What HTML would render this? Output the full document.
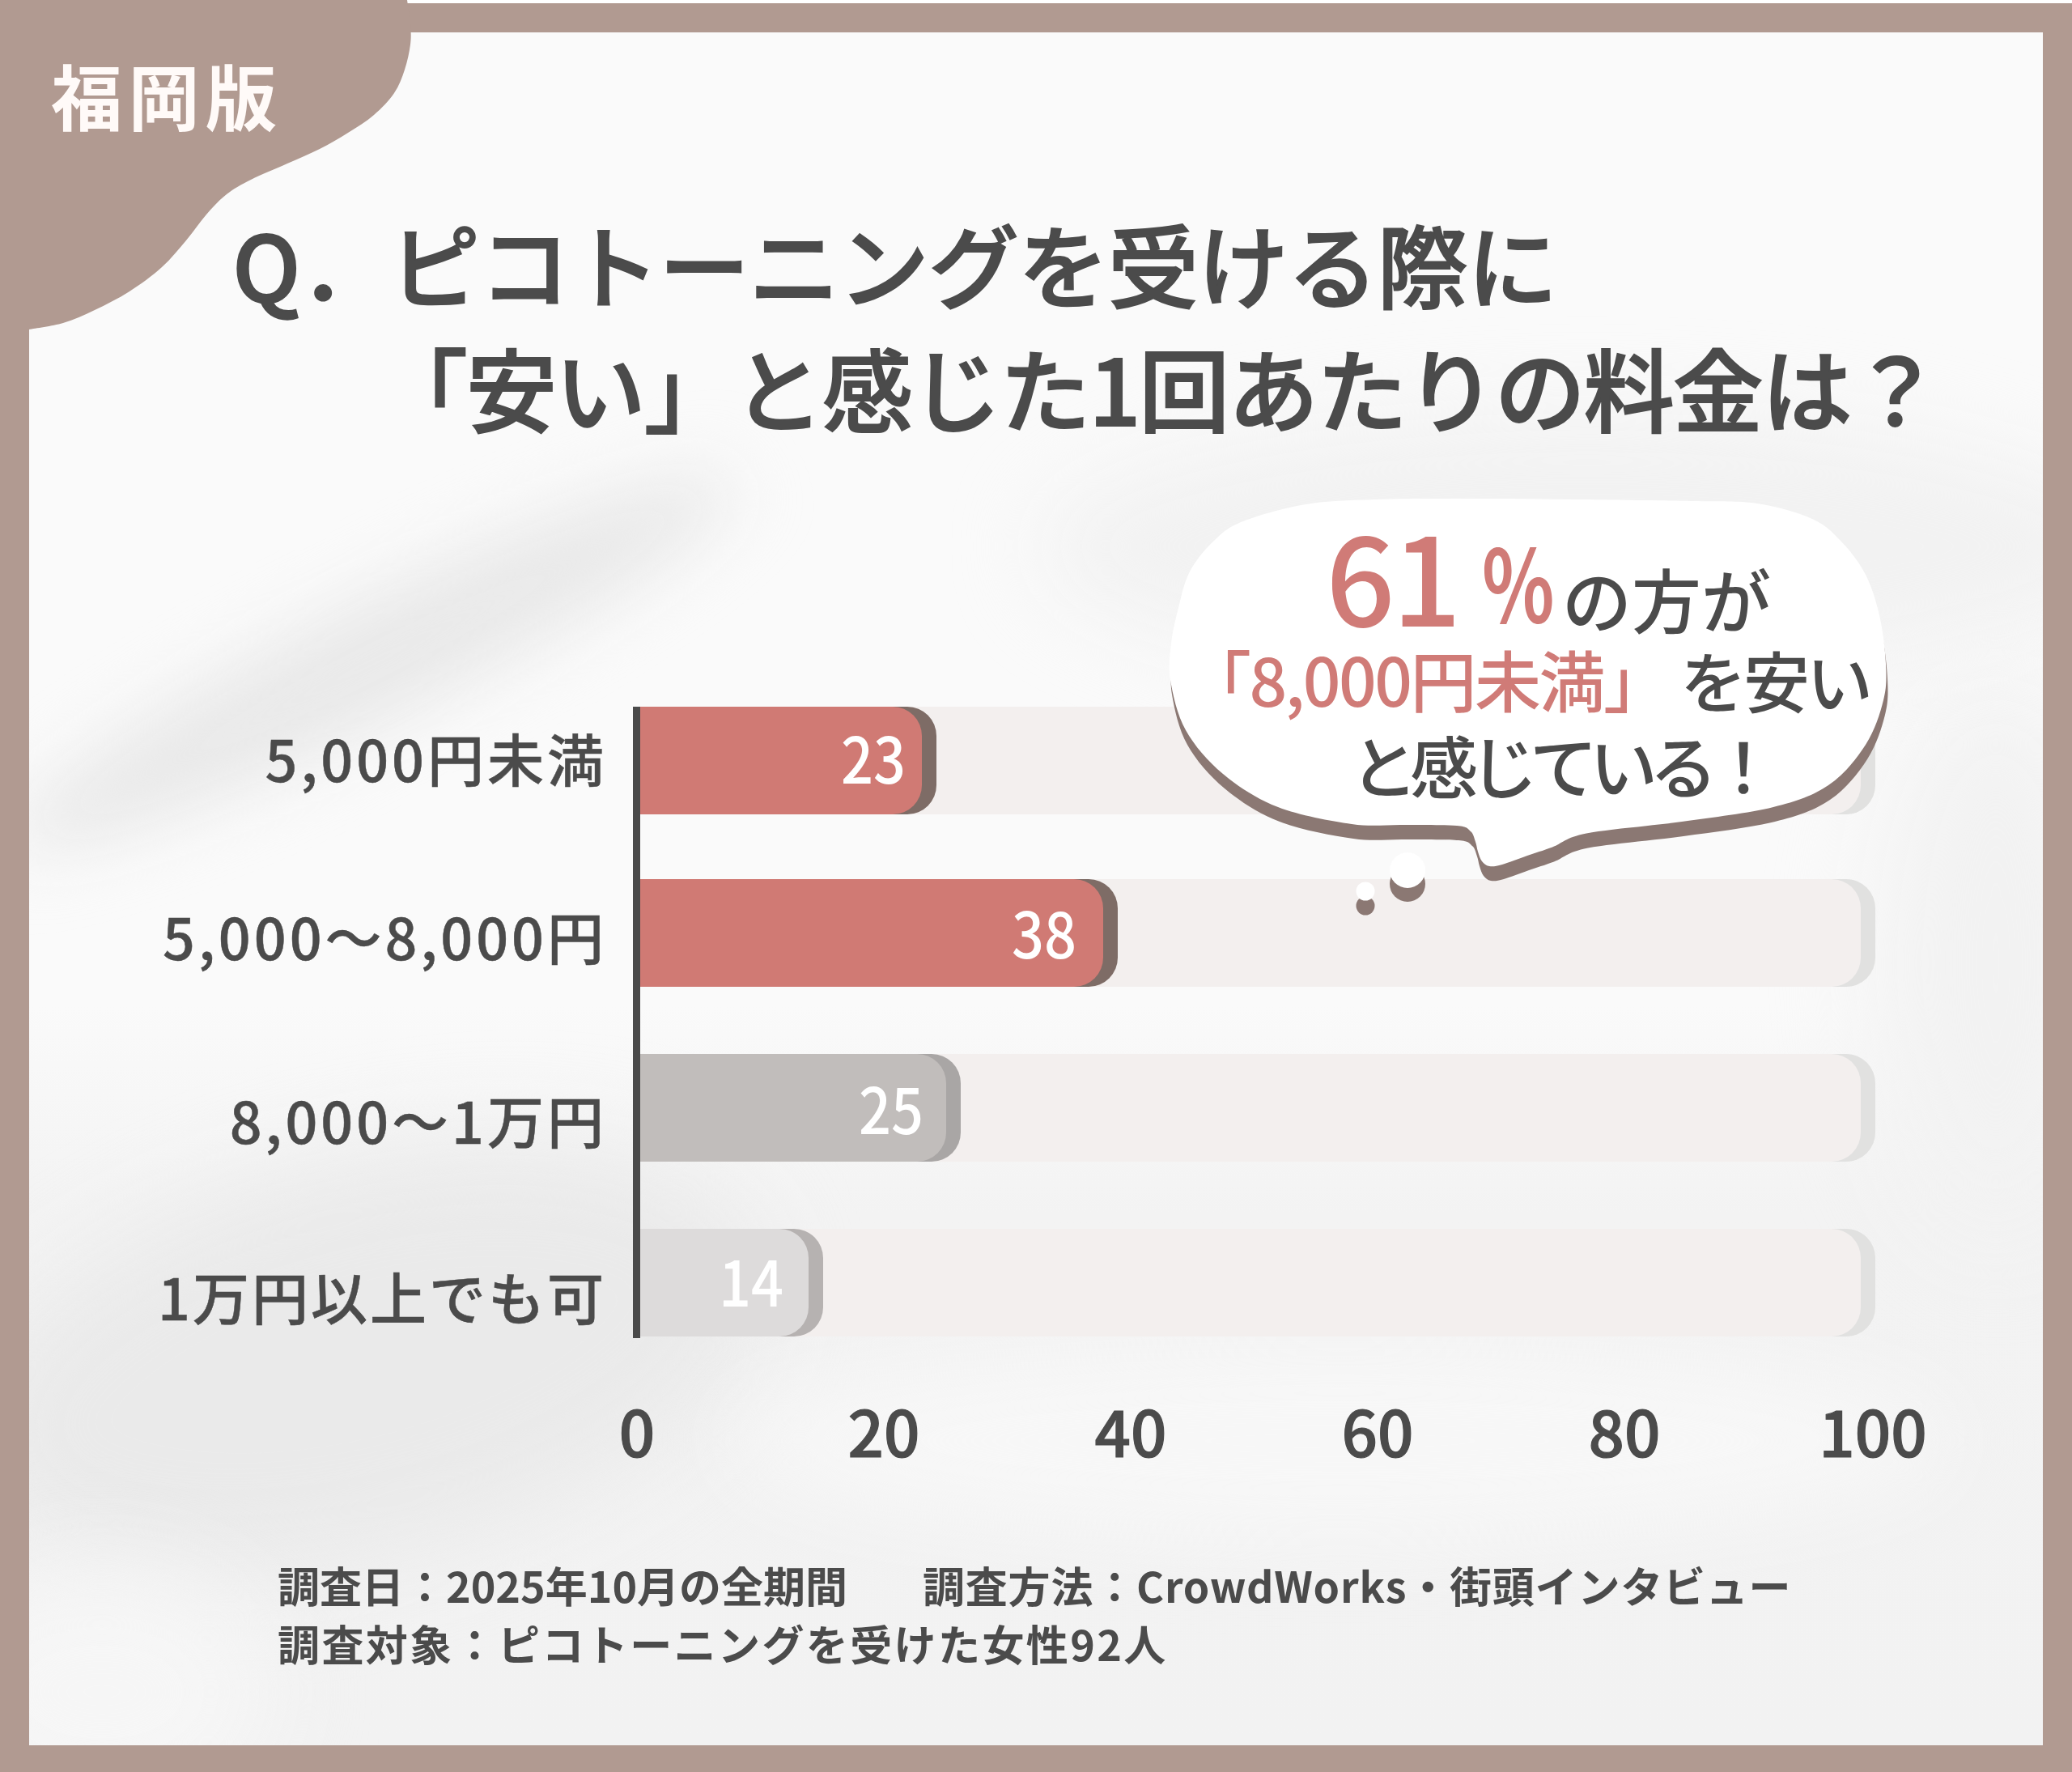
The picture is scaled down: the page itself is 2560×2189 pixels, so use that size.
<!DOCTYPE html>
<html lang="ja">
<head>
<meta charset="utf-8">
<title>ピコトーニング 安いと感じた1回あたりの料金</title>
<style>
*{margin:0;padding:0;box-sizing:border-box}
html,body{width:2560px;height:2189px;overflow:hidden;background:#ffffff}
body{position:relative;font-family:"Liberation Sans","Noto Sans CJK JP",sans-serif;color:#4b4b4b}
.abs{position:absolute}
#frame{position:absolute;left:0;top:4px;width:2560px;height:2185px;background:#b19a91}
#panel{position:absolute;left:36px;top:40px;width:2488px;height:2116px;background:#fafafa;overflow:hidden}
.t{position:absolute;white-space:nowrap;line-height:1}
.jp{font-family:"Noto Sans CJK JP",sans-serif}
.sh{position:absolute;border-radius:50%;background:#e6e6e6;filter:blur(40px)}
.track{position:absolute;left:782px;width:1517px;height:133px;background:#f3efee;border-radius:0 36px 36px 0}
.trackd{position:absolute;left:800px;width:1517px;height:133px;background:#e1e1e0;border-radius:0 36px 36px 0}
.bar{position:absolute;left:782px;height:133px;border-radius:0 36px 36px 0}
.lab{position:absolute;white-space:nowrap;line-height:1;font-family:"Noto Sans CJK JP",sans-serif;font-weight:500;font-size:70px;letter-spacing:4px;color:#4b4b4b;text-align:right;-webkit-text-stroke:0.5px #4b4b4b}
.val{position:absolute;white-space:nowrap;line-height:1;font-family:"Noto Sans CJK JP",sans-serif;font-weight:500;font-size:78px;color:#fff;transform:scaleX(0.9);transform-origin:right center}
.tick{position:absolute;white-space:nowrap;line-height:1;font-family:"Noto Sans CJK JP",sans-serif;font-weight:500;font-size:78px;color:#4b4b4b;transform:translateX(-50%);-webkit-text-stroke:1.2px #4b4b4b}
.pk{color:#d07b77}
.dk{color:#4b4b4b}
.foot{position:absolute;white-space:nowrap;line-height:1;font-family:"Noto Sans CJK JP",sans-serif;font-weight:700;font-size:52px;color:#4b4b4b}
</style>
</head>
<body>
<div id="frame"></div>
<div id="panel">
  <div id="bg">
    <div class="abs" style="left:0;top:1200px;width:2488px;height:916px;background:linear-gradient(to bottom,rgba(242,242,242,0) 0px,#f3f3f3 260px,#f2f2f2 916px)"></div>
    <div class="sh" style="left:-76px;top:703px;width:1000px;height:150px;background:#e9e9e9;transform:rotate(-26.5deg);filter:blur(42px)"></div>
    <div class="sh" style="left:-86px;top:1400px;width:1000px;height:480px;background:#eaeaea;transform:rotate(-14deg);filter:blur(60px)"></div>
    <div class="sh" style="left:-120px;top:1900px;width:420px;height:300px;background:#f6f6f6;filter:blur(60px)"></div>
    <div class="sh" style="left:870px;top:1620px;width:1500px;height:240px;background:#f7f7f7;filter:blur(50px)"></div>
    <div class="sh" style="left:2280px;top:800px;width:300px;height:700px;background:#f2f2f2;filter:blur(60px)"></div>
    <div class="sh" style="left:1250px;top:470px;width:1350px;height:330px;background:#f2f2f2;filter:blur(50px)"></div>
  </div>
</div>

<!-- top-left blob -->
<svg class="abs" style="left:0;top:0" width="560" height="440" viewBox="0 0 560 440">
  <path d="M0 0 L503 0 C503.7 5.0 506.3 20.8 507 30 C507.7 39.2 508.2 45.7 507 55 C505.8 64.3 503.3 76.0 500 86 C496.7 96.0 493.3 105.7 487 115 C480.7 124.3 471.5 133.8 462 142 C452.5 150.2 441.2 157.0 430 164 C418.8 171.0 407.5 177.7 395 184 C382.5 190.3 369.2 195.7 355 202 C340.8 208.3 322.5 215.7 310 222 C297.5 228.3 289.2 232.8 280 240 C270.8 247.2 263.3 255.5 255 265 C246.7 274.5 239.2 286.2 230 297 C220.8 307.8 211.7 319.5 200 330 C188.3 340.5 173.8 351.2 160 360 C146.2 368.8 130.7 376.5 117 383 C103.3 389.5 91.5 395.0 78 399 C64.5 403.0 43.0 405.7 36 407 L36 440 L0 440 Z" fill="#b19a91"/>
</svg>
<div class="t jp" id="fukuoka" style="left:63px;top:72px;font-size:88px;font-weight:700;color:#fffaf8;letter-spacing:7.5px">福岡版</div>

<!-- title -->
<div class="t jp" id="title1" style="left:287px;top:268px;font-size:112px;font-weight:500;-webkit-text-stroke:1.8px #4b4b4b;color:#4b4b4b;letter-spacing:-1.05px">Q．ピコトーニングを受ける際に</div>
<div class="t jp" id="title2" style="left:466px;top:421px;font-size:112px;font-weight:500;-webkit-text-stroke:1.8px #4b4b4b;color:#4b4b4b;letter-spacing:-2.07px">「安い」と感じた1回あたりの料金は？</div>

<!-- chart tracks -->
<div class="trackd" style="top:873px"></div><div class="track" style="top:873px"></div>
<div class="trackd" style="top:1086px"></div><div class="track" style="top:1086px"></div>
<div class="trackd" style="top:1302px"></div><div class="track" style="top:1302px"></div>
<div class="trackd" style="top:1518px"></div><div class="track" style="top:1518px"></div>

<!-- bars -->
<div class="bar" style="top:873px;left:800px;width:357px;background:#7e6c66"></div>
<div class="bar" style="top:873px;width:357px;background:#d07a74"></div>
<div class="bar" style="top:1086px;left:800px;width:581px;background:#7e6c66"></div>
<div class="bar" style="top:1086px;width:581px;background:#d07a74"></div>
<div class="bar" style="top:1302px;left:800px;width:387px;background:#a9a6a5"></div>
<div class="bar" style="top:1302px;width:387px;background:#c1bdbb"></div>
<div class="bar" style="top:1518px;left:800px;width:217px;background:#b6b2b1"></div>
<div class="bar" style="top:1518px;width:217px;background:#dddbdb"></div>

<!-- axis -->
<div class="abs" style="left:782px;top:873px;width:9px;height:780px;background:#4a4a4a"></div>

<!-- values -->
<div class="val" style="right:1441px;top:895px">23</div>
<div class="val" style="right:1230px;top:1111px">38</div>
<div class="val" style="right:1419px;top:1328px">25</div>
<div class="val" style="right:1592px;top:1541px">14</div>

<!-- category labels -->
<div class="lab" style="right:1810px;top:901px">5,000円未満</div>
<div class="lab" style="right:1810px;top:1121px">5,000～8,000円</div>
<div class="lab" style="right:1810px;top:1348px">8,000～1万円</div>
<div class="lab" style="right:1811px;top:1566px;letter-spacing:3px">1万円以上でも可</div>

<!-- ticks -->
<div class="tick" style="left:787px;top:1727px">0</div>
<div class="tick" style="left:1092px;top:1727px">20</div>
<div class="tick" style="left:1397px;top:1727px">40</div>
<div class="tick" style="left:1702px;top:1727px">60</div>
<div class="tick" style="left:2007px;top:1727px">80</div>
<div class="tick" style="left:2314px;top:1727px">100</div>

<!-- speech bubble -->
<svg class="abs" style="left:0;top:0" width="2560" height="1200" viewBox="0 0 2560 1200">
  <g fill="#8b7873">
    <path transform="translate(2 18)" d="M1700.0 617.0 C1734.5 615.8 1778.3 616.0 1820.0 616.0 C1861.7 616.0 1905.0 616.5 1950.0 617.0 C1995.0 617.5 2053.2 618.2 2090.0 619.0 C2126.8 619.8 2146.2 618.3 2171.0 622.0 C2195.8 625.7 2221.8 633.3 2239.0 641.0 C2256.2 648.7 2263.2 656.8 2274.0 668.0 C2284.8 679.2 2296.0 692.7 2304.0 708.0 C2312.0 723.3 2317.7 741.3 2322.0 760.0 C2326.3 778.7 2329.2 802.5 2330.0 820.0 C2330.8 837.5 2331.2 848.3 2327.0 865.0 C2322.8 881.7 2316.3 902.5 2305.0 920.0 C2293.7 937.5 2278.0 957.2 2259.0 970.0 C2240.0 982.8 2221.2 989.5 2191.0 997.0 C2160.8 1004.5 2116.5 1009.6 2078.0 1015.0 C2039.5 1020.4 1986.7 1024.2 1960.0 1029.5 C1933.3 1034.8 1930.2 1041.9 1918.0 1046.5 C1905.8 1051.1 1897.3 1053.4 1887.0 1057.0 C1876.7 1060.6 1863.8 1065.8 1856.0 1068.0 C1848.2 1070.2 1844.2 1070.7 1840.0 1070.0 C1835.8 1069.3 1833.3 1067.0 1831.0 1064.0 C1828.7 1061.0 1827.3 1056.0 1826.0 1052.0 C1824.7 1048.0 1824.5 1044.2 1823.0 1040.0 C1821.5 1035.8 1820.8 1030.3 1817.0 1027.0 C1813.2 1023.7 1814.0 1021.3 1800.0 1020.0 C1786.0 1018.7 1754.7 1019.3 1733.0 1019.0 C1711.3 1018.7 1695.7 1021.7 1670.0 1018.0 C1644.3 1014.3 1605.5 1007.3 1579.0 997.0 C1552.5 986.7 1530.0 971.8 1511.0 956.0 C1492.0 940.2 1475.8 921.3 1465.0 902.0 C1454.2 882.7 1449.0 857.8 1446.0 840.0 C1443.0 822.2 1445.5 809.2 1447.0 795.0 C1448.5 780.8 1451.2 769.8 1455.0 755.0 C1458.8 740.2 1462.3 720.7 1470.0 706.0 C1477.7 691.3 1490.0 677.3 1501.0 667.0 C1512.0 656.7 1517.3 651.3 1536.0 644.0 C1554.7 636.7 1585.7 627.5 1613.0 623.0 C1640.3 618.5 1665.5 618.2 1700.0 617.0Z"/>
    <circle cx="1739" cy="1092" r="22"/>
    <circle cx="1687" cy="1119" r="11.5"/>
  </g>
  <g fill="#ffffff">
    <path d="M1700.0 617.0 C1734.5 615.8 1778.3 616.0 1820.0 616.0 C1861.7 616.0 1905.0 616.5 1950.0 617.0 C1995.0 617.5 2053.2 618.2 2090.0 619.0 C2126.8 619.8 2146.2 618.3 2171.0 622.0 C2195.8 625.7 2221.8 633.3 2239.0 641.0 C2256.2 648.7 2263.2 656.8 2274.0 668.0 C2284.8 679.2 2296.0 692.7 2304.0 708.0 C2312.0 723.3 2317.7 741.3 2322.0 760.0 C2326.3 778.7 2329.2 802.5 2330.0 820.0 C2330.8 837.5 2331.2 848.3 2327.0 865.0 C2322.8 881.7 2316.3 902.5 2305.0 920.0 C2293.7 937.5 2278.0 957.2 2259.0 970.0 C2240.0 982.8 2221.2 989.5 2191.0 997.0 C2160.8 1004.5 2116.5 1009.6 2078.0 1015.0 C2039.5 1020.4 1986.7 1024.2 1960.0 1029.5 C1933.3 1034.8 1930.2 1041.9 1918.0 1046.5 C1905.8 1051.1 1897.3 1053.4 1887.0 1057.0 C1876.7 1060.6 1863.8 1065.8 1856.0 1068.0 C1848.2 1070.2 1844.2 1070.7 1840.0 1070.0 C1835.8 1069.3 1833.3 1067.0 1831.0 1064.0 C1828.7 1061.0 1827.3 1056.0 1826.0 1052.0 C1824.7 1048.0 1824.5 1044.2 1823.0 1040.0 C1821.5 1035.8 1820.8 1030.3 1817.0 1027.0 C1813.2 1023.7 1814.0 1021.3 1800.0 1020.0 C1786.0 1018.7 1754.7 1019.3 1733.0 1019.0 C1711.3 1018.7 1695.7 1021.7 1670.0 1018.0 C1644.3 1014.3 1605.5 1007.3 1579.0 997.0 C1552.5 986.7 1530.0 971.8 1511.0 956.0 C1492.0 940.2 1475.8 921.3 1465.0 902.0 C1454.2 882.7 1449.0 857.8 1446.0 840.0 C1443.0 822.2 1445.5 809.2 1447.0 795.0 C1448.5 780.8 1451.2 769.8 1455.0 755.0 C1458.8 740.2 1462.3 720.7 1470.0 706.0 C1477.7 691.3 1490.0 677.3 1501.0 667.0 C1512.0 656.7 1517.3 651.3 1536.0 644.0 C1554.7 636.7 1585.7 627.5 1613.0 623.0 C1640.3 618.5 1665.5 618.2 1700.0 617.0Z"/>
    <circle cx="1739" cy="1075" r="22"/>
    <circle cx="1687" cy="1101" r="11.5"/>
  </g>
</svg>

<div class="t jp pk" style="left:1638px;top:634px;font-size:150px;font-weight:500;letter-spacing:-3.5px">61</div>
<div class="t jp pk" style="left:1831px;top:653px;font-size:124px;font-weight:700;transform:scaleX(0.75);transform-origin:0 0">%</div>
<div class="t jp dk" style="left:1930px;top:696px;font-size:86px;font-weight:500">の方が</div>
<div class="t jp" style="left:1464px;top:797px;font-size:82px;font-weight:500;letter-spacing:-2.5px"><span class="pk">「8,000円未満」</span></div>
<div class="t jp dk" style="left:2076px;top:798px;font-size:82px;font-weight:500;letter-spacing:-4px">を安い</div>
<div class="t jp dk" style="left:1668px;top:902px;font-size:84px;font-weight:500;letter-spacing:-10px">と感じている！</div>

<!-- footer -->
<div class="foot" style="left:343px;top:1932px">調査日：2025年10月の全期間</div>
<div class="foot" style="left:1140px;top:1932px;letter-spacing:0.8px">調査方法：CrowdWorks・街頭インタビュー</div>
<div class="foot" style="left:343px;top:2004px;letter-spacing:2.4px">調査対象：ピコトーニングを受けた女性92人</div>

</body>
</html>
